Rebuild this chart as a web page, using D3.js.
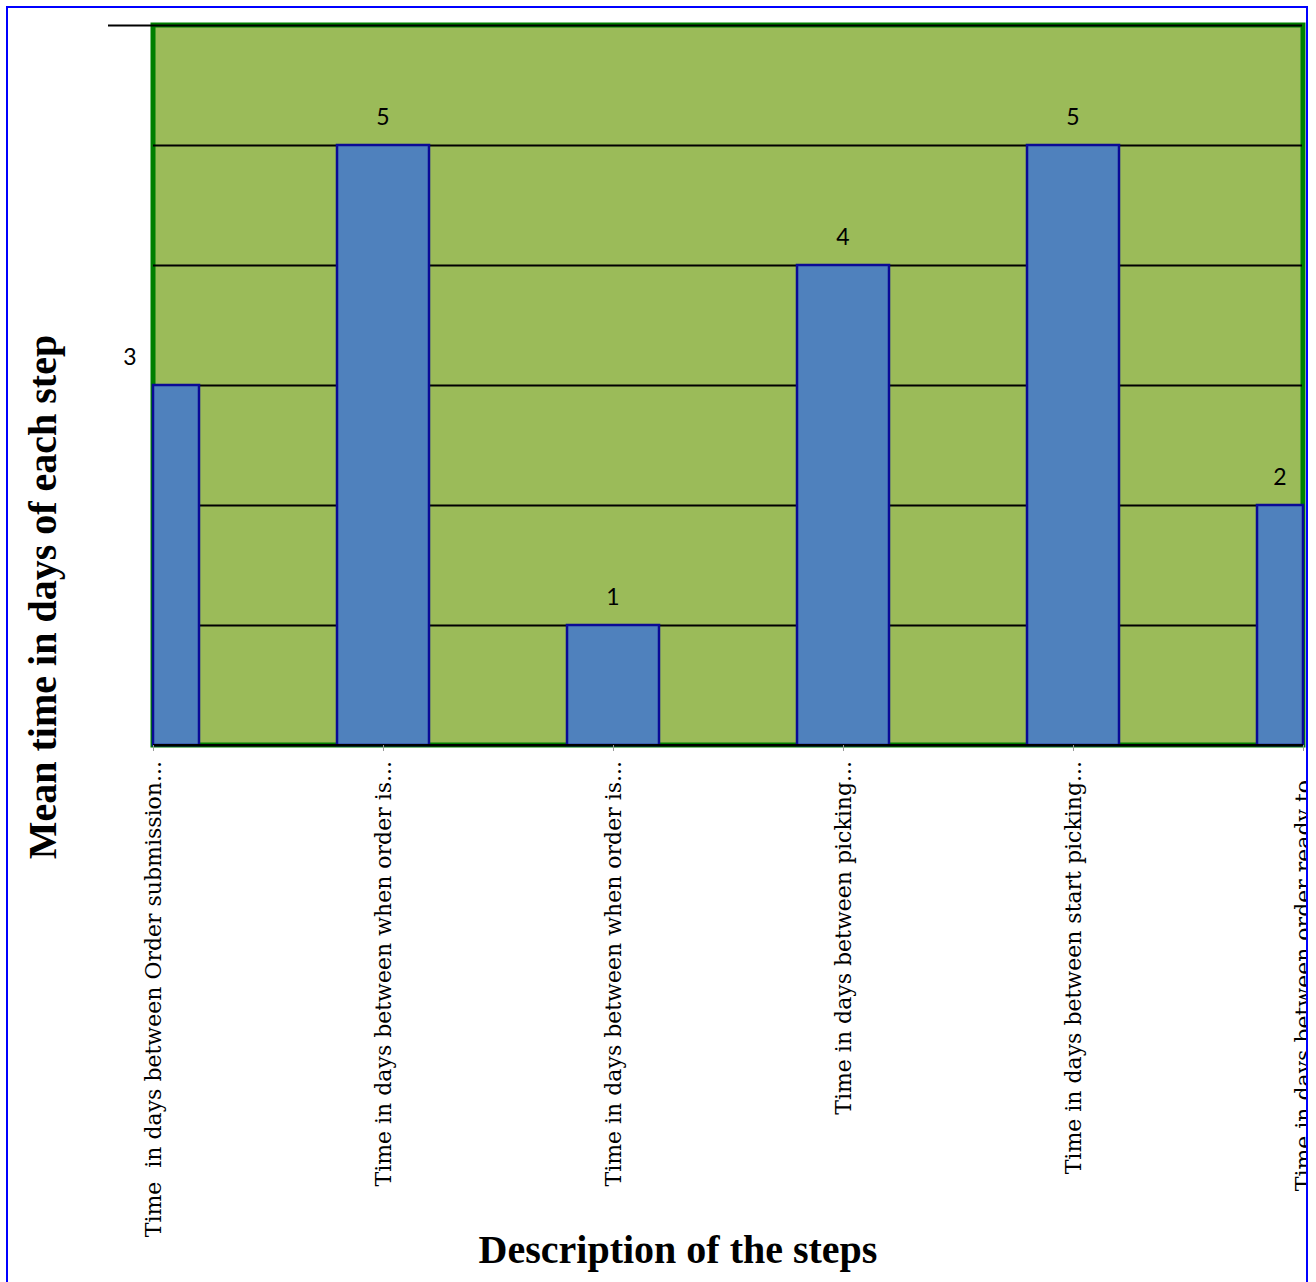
<!DOCTYPE html>
<html>
<head>
<meta charset="utf-8">
<script src="https://cdn.jsdelivr.net/npm/d3@7"></script>
<style>
  html, body { margin: 0; padding: 0; background: #fff; }
  svg { display: block; }
</style>
</head>
<body>
<script>
// ---- data ----
const categories = [
  "Time  in days between Order submission...",
  "Time in days between when order is...",
  "Time in days between when order is... ",
  "Time in days between picking...",
  "Time in days between start picking...",
  "Time in days between order ready to"
];
const values = [3, 5, 1, 4, 5, 2];
const yTicks = [0, 1, 2, 3, 4, 5, 6];
const yTitle = "Mean time in days of each step";
const xTitle = "Description of the steps";

// ---- layout ----
const W = 1316, H = 1282;
const plot = { left: 153, right: 1303, top: 25, bottom: 745 };
const barWidth = 92;

const svg = d3.select("body").append("svg")
  .attr("width", W).attr("height", H);

const defs = svg.append("defs");
defs.append("clipPath").attr("id", "frameClip")
  .append("rect").attr("x", 8).attr("y", 8).attr("width", 1299).attr("height", 1290);

const x = d3.scalePoint().domain(categories).range([plot.left, plot.right]);
const y = d3.scaleLinear().domain([0, 6]).range([plot.bottom, plot.top]);

const root = svg.append("g").attr("clip-path", "url(#frameClip)");

// plot area background
root.append("rect")
  .attr("x", plot.left).attr("y", plot.top)
  .attr("width", plot.right - plot.left).attr("height", plot.bottom - plot.top)
  .attr("fill", "#9BBB59")
  .attr("stroke", "#007F00").attr("stroke-width", 5);

// gridlines via axis
const yAxis = d3.axisLeft(y).tickValues(yTicks)
  .tickSize(-(plot.right - plot.left - 1)).tickFormat("");
const gy = root.append("g").attr("transform", `translate(${plot.left},0)`).call(yAxis);
gy.select(".domain").remove();
gy.selectAll(".tick line").attr("stroke", "#000").attr("stroke-width", 2);
// top tick extends outside to the left
gy.selectAll(".tick").filter(d => d === 6).select("line")
  .attr("x1", -45);

// bars (clipped to plot area)
const bars = root.append("g");
bars.selectAll("rect").data(values).join("rect")
  .attr("x", (d, i) => Math.max(x(categories[i]) - barWidth / 2, plot.left))
  .attr("width", (d, i) => Math.min(x(categories[i]) + barWidth / 2, plot.right) - Math.max(x(categories[i]) - barWidth / 2, plot.left))
  .attr("y", d => y(d))
  .attr("height", d => y(0) - y(d))
  .attr("fill", "#4F81BD")
  .attr("stroke", "#0A0A96").attr("stroke-width", 2.5);

// value labels
root.append("g").selectAll("text").data(values).join("text")
  .attr("x", (d, i) => {
    const cx = x(categories[i]);
    return (i === 0 || i === values.length - 1) ? cx - barWidth / 4 : cx;
  })
  .attr("y", d => y(d) - 20)
  .attr("text-anchor", "middle")
  .attr("font-family", "Lato, 'Open Sans', sans-serif")
  .attr("font-size", 23)
  .attr("fill", "#000")
  .text(d => d);

// x axis ticks + labels
const xAxis = d3.axisBottom(x).tickSize(6).tickFormat("");
const gx = root.append("g").attr("transform", `translate(0,${plot.bottom})`).call(xAxis);
gx.select(".domain").attr("stroke", "#000").attr("stroke-width", 2)
  .attr("d", `M${plot.left},0H${plot.right}`);
gx.selectAll(".tick line").attr("stroke", "#999").attr("stroke-width", 1);

const labelEnds = [761, 761, 761, 761, 761, 780];
root.append("g").selectAll("text").data(categories).join("text")
  .attr("transform", (d, i) => `translate(${x(d)},${labelEnds[i]}) rotate(-90)`)
  .attr("text-anchor", "end")
  .attr("dy", "0.36em")
  .attr("font-family", "'DejaVu Serif', serif")
  .attr("font-size", 22)
  .attr("fill", "#000")
  .style("white-space", "pre")
  .text(d => d.trimEnd());

// axis titles
root.append("text")
  .attr("transform", `translate(56,597) rotate(-90)`)
  .attr("text-anchor", "middle")
  .attr("font-family", "'Liberation Serif', serif")
  .attr("font-weight", "bold")
  .attr("font-size", 40)
  .text(yTitle);

root.append("text")
  .attr("x", 678).attr("y", 1263)
  .attr("text-anchor", "middle")
  .attr("font-family", "'Liberation Serif', serif")
  .attr("font-weight", "bold")
  .attr("font-size", 40)
  .text(xTitle);

// outer blue frame
svg.append("rect")
  .attr("x", 7).attr("y", 7).attr("width", 1300).attr("height", 1300)
  .attr("fill", "none").attr("stroke", "#0000FF").attr("stroke-width", 2);
</script>
</body>
</html>
